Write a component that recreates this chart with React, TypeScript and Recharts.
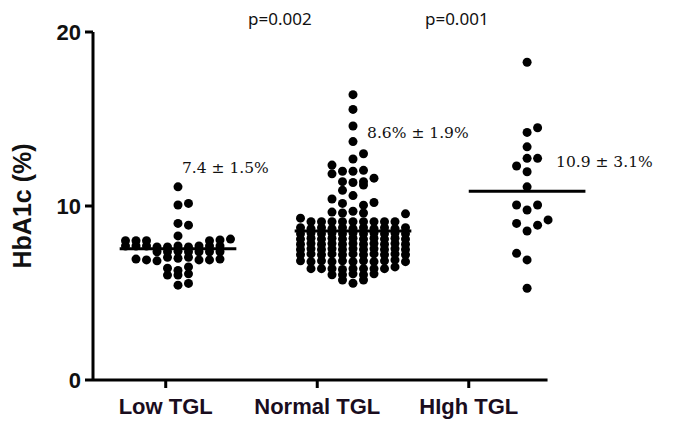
import React from 'react';
import { ScatterChart, Scatter, XAxis, YAxis, ReferenceLine, ReferenceDot } from 'recharts';

const categories = ['Low TGL', 'Normal TGL', 'HIgh TGL'];
const categoryTicks = [1, 2, 3];
const yTicks = [0, 10, 20];

// [slot, HbA1c] per group
const lowPoints: [number, number][] = [
  [0, 11.1], [0, 10.06], [1, 10.15], [0, 9.0], [1, 8.9], [0, 8.28],
  [-5, 8.0], [-4, 8.0], [-3, 8.0], [3, 8.0], [4, 8.05], [5, 8.1],
  [-5, 7.7], [-4, 7.7], [-3, 7.7], [-2, 7.65], [-1, 7.65], [0, 7.7], [1, 7.65], [2, 7.7], [3, 7.7], [4, 7.7],
  [-2, 7.37], [-1, 7.37], [0, 7.4], [1, 7.37], [2, 7.37], [3, 7.37], [4, 7.37],
  [-4, 6.95], [-3, 6.9], [-2, 6.85], [-1, 7.05], [0, 7.0], [1, 7.05], [2, 6.9], [3, 6.9], [4, 6.95],
  [-1, 6.42], [0, 6.3], [1, 6.5],
  [-1, 6.03], [0, 6.03], [1, 6.1],
  [0, 5.45], [1, 5.55],
];

const normalPoints: [number, number][] = [
  [0, 16.4], [0, 15.55], [0, 14.6], [0, 13.7], [1, 13.0], [0, 12.7],
  [-2, 12.35], [-1, 12.0], [0, 12.0], [1, 12.05], [-2, 11.85], [2, 11.6],
  [-1, 11.4], [0, 11.35], [1, 11.4], [1, 11.2], [-1, 10.9], [0, 10.6],
  [-2, 10.4], [2, 10.2], [-1, 10.15], [1, 10.05],
  [-2, 9.65], [-1, 9.6], [0, 9.7], [1, 9.6], [5, 9.55], [-5, 9.3],
  [-4, 9.1], [-3, 9.1], [-2, 9.1], [-1, 9.1], [0, 9.1], [1, 9.1], [2, 9.1], [3, 9.1], [4, 9.1],
  [-5, 8.75], [-4, 8.7], [-3, 8.75], [-2, 8.7], [-1, 8.75], [0, 8.7], [1, 8.75], [2, 8.7], [3, 8.75], [4, 8.7], [5, 8.75],
  [-5, 8.4], [-4, 8.45], [-3, 8.4], [-2, 8.45], [-1, 8.4], [0, 8.45], [1, 8.4], [2, 8.45], [3, 8.4], [4, 8.45], [5, 8.4],
  [-5, 8.1], [-4, 8.15], [-3, 8.1], [-2, 8.15], [-1, 8.1], [0, 8.15], [1, 8.1], [2, 8.15], [3, 8.1], [4, 8.15], [5, 8.1],
  [-5, 7.8], [-4, 7.85], [-3, 7.8], [-2, 7.85], [-1, 7.8], [0, 7.85], [1, 7.8], [2, 7.85], [3, 7.8], [4, 7.85], [5, 7.8],
  [-5, 7.5], [-4, 7.55], [-3, 7.5], [-2, 7.55], [-1, 7.5], [0, 7.55], [1, 7.5], [2, 7.55], [3, 7.5], [4, 7.55], [5, 7.5],
  [-5, 7.2], [-4, 7.25], [-3, 7.2], [-2, 7.25], [-1, 7.2], [0, 7.25], [1, 7.2], [2, 7.25], [3, 7.2], [4, 7.25], [5, 7.2],
  [-5, 6.85], [-4, 6.8], [-3, 6.85], [-2, 6.8], [-1, 6.85], [0, 6.8], [1, 6.85], [2, 6.8], [3, 6.85], [4, 6.9], [5, 6.8],
  [-4, 6.4], [-3, 6.4], [-2, 6.4], [-1, 6.35], [0, 6.4], [1, 6.4], [2, 6.4], [3, 6.4], [4, 6.5],
  [-2, 6.05], [-1, 6.05], [0, 6.1], [1, 6.05], [2, 6.1],
  [-1, 5.75], [1, 5.75], [0, 5.56],
];

const highPoints: [number, number][] = [
  [0, 18.26], [1, 14.5], [0, 14.23], [0, 13.4], [0, 12.74], [1, 12.74],
  [-1, 12.3], [0, 11.97], [0, 11.1], [-1, 10.06], [0, 9.77], [1, 10.06],
  [-1, 9.0], [0, 8.56], [1, 8.9], [2, 9.2], [-1, 7.28], [0, 6.9], [0, 5.27],
];

const groupCenters = [1.081, 2.236, 3.385];
const meanValues = [7.55, 8.56, 10.85];
const meanLabels = ['7.4 \u00b1 1.5%', '8.6% \u00b1 1.9%', '10.9 \u00b1 3.1%'];
const meanLabelPos = [
  { x: 1.107, y: 12.18 },
  { x: 2.329, y: 14.2 },
  { x: 3.576, y: 12.53 },
];
const pLabels = ['p=0.002', 'p=0.001'];
const pLabelPos = [
  { x: 1.543, y: 20.8 },
  { x: 2.711, y: 20.8 },
];

const SLOT = 0.0693;
const HALF = 0.385;

const toData = (pts: [number, number][], g: number) =>
  pts.map(([s, v]) => ({ x: groupCenters[g] + s * SLOT, y: v }));

const lowData = toData(lowPoints, 0);
const normalData = toData(normalPoints, 1);
const highData = toData(highPoints, 2);

const Dot = (props: any) => <circle cx={props.cx} cy={props.cy} r={4.5} fill="#000" />;

const textShape = (txt: string, family: string, size: number) => (props: any) => (
  <text
    x={props.cx}
    y={props.cy}
    fontFamily={family}
    fontSize={size}
    fill="#111"
    dominantBaseline="central"
    textAnchor="start"
  >
    {txt}
  </text>
);

export default function App() {
  return (
    <div style={{ position: 'absolute', left: 0, top: 0, background: '#fff' }}>
      <ScatterChart width={686} height={429} margin={{ top: 32, right: 93, bottom: 9, left: 0 }}>
        <XAxis
          type="number"
          dataKey="x"
          domain={[0.52, 3.82]}
          ticks={categoryTicks}
          tickFormatter={(v: number) => categories[v - 1]}
          axisLine={false}
          tickLine={{ stroke: '#000', strokeWidth: 3 }}
          tickSize={8}
          tickMargin={10}
          height={40}
          interval={0}
          allowDataOverflow
          tick={{ fontFamily: 'Liberation Sans, Arial', fontWeight: 'bold', fontSize: 22, fill: '#1a0d1e' }}
        />
        <YAxis
          type="number"
          dataKey="y"
          domain={[0, 20]}
          ticks={yTicks}
          width={93}
          axisLine={{ stroke: '#000', strokeWidth: 3 }}
          tickLine={{ stroke: '#000', strokeWidth: 3 }}
          tickSize={8}
          tickMargin={4}
          interval={0}
          allowDataOverflow
          tick={{ fontFamily: 'Liberation Sans, Arial', fontWeight: 'bold', fontSize: 22, fill: '#111' }}
          label={{
            content: () => (
              <text
                x={22}
                y={206}
                transform="rotate(-90, 22, 206)"
                textAnchor="middle"
                dominantBaseline="central"
                fontFamily="Liberation Sans, Arial"
                fontWeight="bold"
                fontSize={25}
                fill="#111"
              >
                HbA1c (%)
              </text>
            ),
          }}
        />
        <ReferenceLine
          segment={[{ x: 0.52, y: 0 }, { x: 3.52, y: 0 }]}
          stroke="#000"
          strokeWidth={3}
          ifOverflow="visible"
        />
        <Scatter data={lowData} shape={Dot} isAnimationActive={false} />
        <Scatter data={normalData} shape={Dot} isAnimationActive={false} />
        <Scatter data={highData} shape={Dot} isAnimationActive={false} />
        {meanValues.map((m, i) => (
          <ReferenceLine
            key={'m' + i}
            segment={[{ x: groupCenters[i] - HALF, y: m }, { x: groupCenters[i] + HALF, y: m }]}
            stroke="#000"
            strokeWidth={3}
            ifOverflow="visible"
          />
        ))}
        {meanLabels.map((t, i) => (
          <ReferenceDot
            key={'l' + i}
            x={meanLabelPos[i].x}
            y={meanLabelPos[i].y}
            ifOverflow="visible"
            shape={textShape(t, 'DejaVu Serif', 15.5)}
          />
        ))}
        {pLabels.map((t, i) => (
          <ReferenceDot
            key={'p' + i}
            x={pLabelPos[i].x}
            y={pLabelPos[i].y}
            ifOverflow="visible"
            shape={textShape(t, 'Noto Sans', 17)}
          />
        ))}
      </ScatterChart>
    </div>
  );
}
